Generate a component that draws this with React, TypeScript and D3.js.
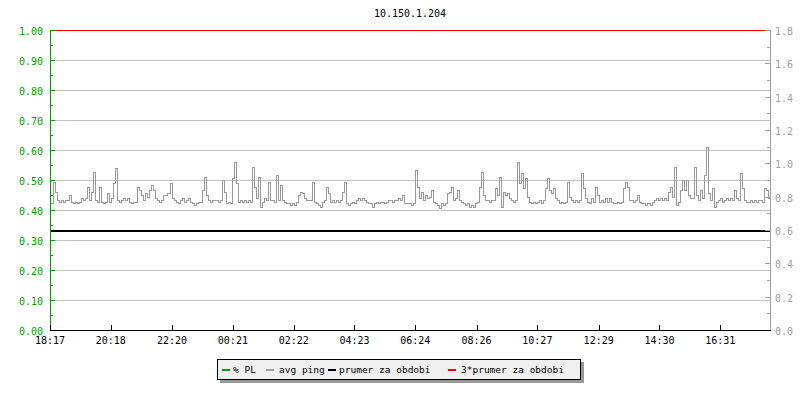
import React from "react";
import * as d3 from "d3";

const title = "10.150.1.204";
const timeLabels = ["18:17", "20:18", "22:20", "00:21", "02:22", "04:23", "06:24", "08:26", "10:27", "12:29", "14:30", "16:31"];
const leftTicks = [0, 0.1, 0.2, 0.3, 0.4, 0.5, 0.6, 0.7, 0.8, 0.9, 1.0];
const rightTicks = [0, 0.2, 0.4, 0.6, 0.8, 1.0, 1.2, 1.4, 1.6, 1.8];
const plValues = [0, 0];
const prumer = 0.6;
const prumer3 = 1.8;
const avgPing = [
  0.76, 0.76, 0.89, 0.83, 0.78, 0.77, 0.78, 0.77, 0.78, 0.78,
  0.81, 0.77, 0.76, 0.77, 0.76, 0.77, 0.79, 0.78, 0.79, 0.86,
  0.78, 0.83, 0.95, 0.78, 0.77, 0.86, 0.77, 0.76, 0.77, 0.82,
  0.77, 0.79, 0.88, 0.97, 0.78, 0.77, 0.78, 0.79, 0.78, 0.79,
  0.77, 0.76, 0.77, 0.77, 0.86, 0.84, 0.81, 0.78, 0.82, 0.80,
  0.84, 0.87, 0.84, 0.79, 0.78, 0.77, 0.78, 0.81, 0.81, 0.82,
  0.88, 0.79, 0.78, 0.77, 0.76, 0.78, 0.79, 0.77, 0.78, 0.79,
  0.77, 0.76, 0.75, 0.76, 0.77, 0.77, 0.84, 0.92, 0.81, 0.78,
  0.77, 0.78, 0.78, 0.78, 0.77, 0.78, 0.90, 0.83, 0.76, 0.77,
  0.76,
  0.91, 1.01, 0.88, 0.77, 0.78, 0.77, 0.78, 0.77, 0.78, 0.77,
  0.98, 0.86, 0.79, 0.92, 0.74, 0.77, 0.79, 0.78, 0.89, 0.78,
  0.78, 0.77, 0.93, 0.78, 0.87, 0.78, 0.77, 0.76, 0.76, 0.75,
  0.76, 0.75, 0.77, 0.81, 0.83, 0.82, 0.79, 0.78, 0.78, 0.78,
  0.89, 0.77, 0.76, 0.75, 0.74, 0.77, 0.78, 0.86, 0.82, 0.77,
  0.78, 0.77, 0.78, 0.77, 0.78, 0.83, 0.89, 0.76, 0.75, 0.76,
  0.77, 0.76, 0.78, 0.79, 0.78, 0.79, 0.78, 0.77, 0.76, 0.76,
  0.74, 0.76, 0.77, 0.76, 0.77, 0.77, 0.76, 0.77, 0.78, 0.78,
  0.77, 0.78, 0.78, 0.79, 0.78, 0.81, 0.76, 0.76, 0.76,
  0.75, 0.76, 0.96, 0.86, 0.79, 0.83, 0.78, 0.81, 0.79, 0.80,
  0.84, 0.77, 0.76, 0.75, 0.73, 0.76, 0.75, 0.76, 0.82, 0.83,
  0.86, 0.78, 0.79, 0.84, 0.78, 0.77, 0.76, 0.75, 0.76, 0.74,
  0.75, 0.74, 0.76, 0.77, 0.86, 0.95, 0.81, 0.78, 0.78, 0.77,
  0.78, 0.78, 0.85, 0.81, 0.92, 0.74, 0.83, 0.81, 0.82, 0.79,
  0.78, 0.77, 0.78, 1.01, 0.88, 0.94, 0.85, 0.91, 0.80, 0.77,
  0.76, 0.77, 0.76, 0.77, 0.78, 0.76, 0.78, 0.85, 0.91, 0.84,
  0.82, 0.85, 0.79, 0.78, 0.76, 0.77, 0.76, 0.77, 0.89, 0.80,
  0.78, 0.77, 0.78, 0.77, 0.78, 0.94, 0.85, 0.79, 0.77, 0.76,
  0.79, 0.77, 0.86, 0.81, 0.77, 0.78, 0.77, 0.79, 0.77, 0.79,
  0.77, 0.76, 0.76, 0.77, 0.76, 0.77, 0.85, 0.89, 0.86, 0.78,
  0.78, 0.77, 0.78, 0.81, 0.77, 0.76, 0.76, 0.75, 0.76, 0.75,
  0.77, 0.78, 0.79, 0.78, 0.79, 0.78, 0.79, 0.78, 0.83, 0.86,
  0.80, 0.98, 0.75, 0.77, 0.84, 0.90, 0.84, 0.90, 0.81, 0.79,
  0.79, 0.98, 0.81, 0.78, 0.84, 0.79, 0.93, 1.10, 0.82, 0.78,
  0.85, 0.74, 0.77, 0.78, 0.79, 0.77, 0.78, 0.79, 0.78, 0.79,
  0.78, 0.84, 0.79, 0.78, 0.94, 0.85, 0.78, 0.77, 0.77, 0.78,
  0.77, 0.78, 0.77, 0.78, 0.78, 0.77, 0.85, 0.84, 0.79,
];
const legendLabels = ["% PL", "avg ping", "prumer za obdobi", "3*prumer za obdobi"];
const legendColors = ["#00a000", "#a0a0a0", "#000000", "#ff0000"];

const W = 800;
const H = 400;
const X0 = 50;
const X1 = 770;
const Y0 = 330;
const Y1 = 30;
const FONT = "'DejaVu Sans Mono', monospace";
const GREEN = "#00a000";
const GRAY_AXIS = "#a0a0a0";
const GRID = "#c0c0c0";

function toMinutes(label: string, start: number) {
  const [h, m] = label.split(":").map(Number);
  let t = h * 60 + m - start;
  if (t < 0) t += 1440;
  return t;
}

export default function App() {
  const [sh, sm] = timeLabels[0].split(":").map(Number);
  const start = sh * 60 + sm;
  const xTime = d3.scaleLinear().domain([0, 1433]).range([X0, X1]);
  const xIdx = d3.scaleLinear().domain([0, avgPing.length - 1]).range([X0, X1 - 1]);
  const yL = d3.scaleLinear().domain([0, 1]).range([Y0, Y1]);
  const yR = d3.scaleLinear().domain([0, 1.8]).range([Y0, Y1]);

  const line = d3
    .line<number>()
    .curve(d3.curveStep)
    .x((_, i) => Math.round(xIdx(i)) + 0.5)
    .y((d) => Math.round(yR(d)) + 0.5);

  const leftMinor = leftTicks.slice(0, -1).map((t) => t + 0.05);
  const rightMinor = rightTicks.slice(0, -1).map((t) => t + 0.1);
  const cr = (v: number) => Math.round(v) + 0.5;

  const legendX = [222, 266, 328, 448];
  const legendTextX = [233, 279, 339, 461];

  return (
    <svg
      width={W}
      height={H}
      style={{ position: "absolute", left: 0, top: 0, background: "#fff" }}
      fontFamily={FONT}
    >
      <rect x={0} y={0} width={W} height={H} fill="#fff" />
      <text x={(X0 + X1) / 2} y={17} fontSize={10} textAnchor="middle" fill="#000">
        {title}
      </text>

      {/* grid */}
      <g shapeRendering="crispEdges">
        {leftTicks.slice(1, -1).map((t) => (
          <line key={"g" + t} x1={X0 + 5} x2={X1} y1={cr(yL(t))} y2={cr(yL(t))} stroke={GRID} />
        ))}
      </g>

      {/* series */}
      <path d={line(avgPing) || ""} fill="none" stroke="#999999" strokeWidth={1} shapeRendering="crispEdges" />
      <line
        x1={X0}
        x2={X1}
        y1={yL(plValues[0])}
        y2={yL(plValues[1])}
        stroke={GREEN}
        shapeRendering="crispEdges"
      />
      <line x1={X0} x2={X1} y1={Math.round(yR(prumer)) + 1} y2={Math.round(yR(prumer)) + 1} stroke="#000" strokeWidth={2} shapeRendering="crispEdges" />
      <line x1={X0} x2={X1 - 5} y1={cr(yR(prumer3))} y2={cr(yR(prumer3))} stroke="#ff0000" shapeRendering="crispEdges" />

      {/* left axis */}
      <g shapeRendering="crispEdges">
        <line x1={X0 + 0.5} x2={X0 + 0.5} y1={Y1} y2={Y0} stroke={GREEN} />
        {leftTicks.map((t) => (
          <line key={"lt" + t} x1={X0} x2={X0 + 5} y1={cr(yL(t))} y2={cr(yL(t))} stroke={GREEN} />
        ))}
        {leftMinor.map((t) => (
          <line key={"lm" + t} x1={X0} x2={X0 + 3} y1={cr(yL(t))} y2={cr(yL(t))} stroke={GREEN} />
        ))}
      </g>
      {leftTicks.map((t) => (
        <text key={"ll" + t} x={43} y={yL(t) + 5} fontSize={10} textAnchor="end" fill={GREEN}>
          {t.toFixed(2)}
        </text>
      ))}

      {/* right axis */}
      <g shapeRendering="crispEdges">
        <line x1={X1 + 0.5} x2={X1 + 0.5} y1={Y1} y2={Y0} stroke={GRAY_AXIS} />
        {rightTicks.map((t) => (
          <line key={"rt" + t} x1={X1 - 5} x2={X1} y1={cr(yR(t))} y2={cr(yR(t))} stroke={GRAY_AXIS} />
        ))}
        {rightMinor.map((t) => (
          <line key={"rm" + t} x1={X1 - 3} x2={X1} y1={cr(yR(t))} y2={cr(yR(t))} stroke={GRAY_AXIS} />
        ))}
      </g>
      {rightTicks.map((t) => (
        <text key={"rl" + t} x={775} y={yR(t) + 5} fontSize={10} textAnchor="start" fill={GRAY_AXIS}>
          {t.toFixed(1)}
        </text>
      ))}

      {/* bottom axis */}
      <g shapeRendering="crispEdges">
        <line x1={X0} x2={X1 + 1} y1={Y0 + 0.5} y2={Y0 + 0.5} stroke="#000" />
        {timeLabels.map((l) => (
          <line
            key={"bt" + l}
            x1={cr(xTime(toMinutes(l, start)))}
            x2={cr(xTime(toMinutes(l, start)))}
            y1={Y0 - 5}
            y2={Y0}
            stroke="#000"
          />
        ))}
      </g>
      {timeLabels.map((l) => (
        <text key={"bl" + l} x={xTime(toMinutes(l, start))} y={344} fontSize={10} textAnchor="middle" fill="#000">
          {l}
        </text>
      ))}

      {/* legend */}
      <g shapeRendering="crispEdges">
        <rect x={220} y={362} width={364} height={21} fill="#999999" />
        <rect x={217.5} y={359.5} width={363} height={20} fill="#f0f0f0" stroke="#000" />
        {legendLabels.map((l, i) => (
          <g key={"lg" + l}>
            <rect x={legendX[i]} y={369} width={8} height={2} fill={legendColors[i]} />
          </g>
        ))}
      </g>
      {legendLabels.map((l, i) => (
        <text key={"lgt" + l} x={legendTextX[i]} y={373} fontSize={9.5} fill="#000">
          {l}
        </text>
      ))}
    </svg>
  );
}
